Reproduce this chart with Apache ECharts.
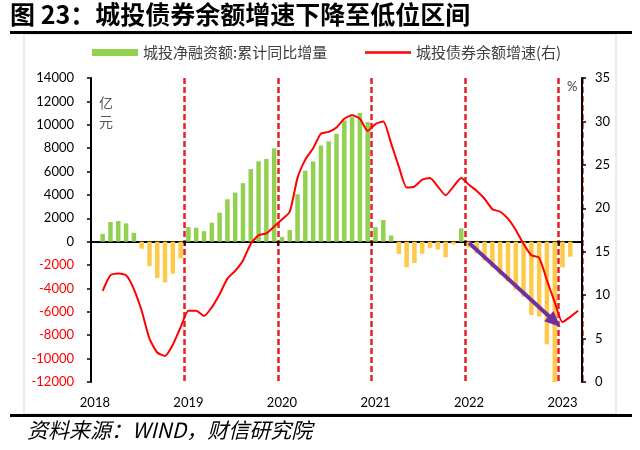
<!DOCTYPE html>
<html>
<head>
<meta charset="utf-8">
<script src="https://cdn.jsdelivr.net/npm/echarts@6/dist/echarts.min.js"></script>
<style>html,body{margin:0;padding:0;background:#fff;}#c{width:640px;height:450px;}</style>
</head>
<body>
<div id="c"></div>
<script>
// ---- data ----
var years = ['2018', '2019', '2020', '2021', '2022', '2023'];
var monthsLastYear = 3; // data runs through Mar 2023
// 城投净融资额:累计同比增量 (亿元), monthly Jan 2018 - Mar 2023
var netFin2018 = [null, 670, 1680, 1765, 1565, 760, -590, -2100, -3120, -3490, -2740, -1450];
var netFin2019 = [1250, 1190, 900, 1620, 2480, 3630, 4200, 5010, 6210, 6870, 7080, 7990];
var netFin2020 = [410, 990, 4060, 6070, 6870, 8220, 8590, 9230, 10370, 10660, 11000, 10230];
var netFin2021 = [1250, 1850, 530, -1050, -2200, -1820, -1020, -530, -670, -1330, -240, 1140];
var netFin2022 = [-500, -1000, -1600, -2200, -2800, -3400, -4100, -4700, -6280, -6400, -8780, -12000];
var netFin2023 = [-2200, -1290, null];
// 城投债券余额增速 (%), right axis
var growth2018 = [null, 10.5, 12.3, 12.5, 12.3, 10.7, 8.2, 5.0, 3.4, 3.0, 4.3, 6.3];
var growth2019 = [8.2, 8.2, 7.6, 8.6, 10.1, 11.9, 12.8, 14.0, 15.9, 16.9, 17.1, 17.9];
var growth2020 = [18.7, 19.6, 23.5, 25.6, 26.9, 28.6, 28.8, 29.3, 30.3, 30.7, 30.3, 28.9];
var growth2021 = [29.7, 30.0, 27.5, 24.8, 22.4, 22.5, 23.3, 23.5, 22.5, 21.5, 22.5, 23.5];
var growth2022 = [22.7, 22.0, 21.1, 19.9, 19.6, 18.8, 17.5, 15.9, 14.6, 14.3, 11.7, 9.2];
var growth2023 = [6.9, 7.5, 8.2];
var leftTicks = {min: -12000, max: 14000, interval: 2000};
var rightTicks = {min: 0, max: 35, interval: 5};
var arrowFrom = ['2022-01', -100];
var arrowTo = ['2022-12', -6830];

// ---- build ----
var categories = [];
years.forEach(function (y, yi) {
  var n = (yi === years.length - 1) ? monthsLastYear : 12;
  for (var m = 1; m <= n; m++) categories.push(y + '-' + (m < 10 ? '0' + m : m));
});
var netFin = [].concat(netFin2018, netFin2019, netFin2020, netFin2021, netFin2022, netFin2023);
var growth = [].concat(growth2018, growth2019, growth2020, growth2021, growth2022, growth2023);

var yearStart = function (index) { return index % 12 === 0; };
var yearSplit = function (index) { return index > 0 && index % 12 === 0; };

var chart = echarts.init(document.getElementById('c'), null, {renderer: 'canvas'});
var numFont = 'Lato, "Open Sans", sans-serif';
var cjk = '"Noto Sans CJK SC", sans-serif';
var legendText = {fontFamily: cjk, fontSize: 15, color: '#404040'};

chart.setOption({
  animation: false,
  backgroundColor: '#fff',
  grid: {left: 91, right: 58, top: 78, bottom: 68, containLabel: false},
  legend: [{
    left: 92, top: 45, padding: 0,
    itemWidth: 46, itemHeight: 7,
    textStyle: legendText,
    data: [{name: '城投净融资额:累计同比增量', icon: 'rect', itemStyle: {color: '#92D050'}}]
  }, {
    left: 365, top: 45, padding: 0,
    itemWidth: 46, itemHeight: 2.5,
    textStyle: legendText,
    data: [{name: '城投债券余额增速(右)', icon: 'rect', itemStyle: {color: '#FF0000'}}]
  }],
  xAxis: [{
    type: 'category', data: categories, boundaryGap: true,
    axisLine: {show: false}, axisTick: {show: false},
    axisLabel: {interval: yearStart, formatter: function (v) { return v.slice(0, 4); },
      fontFamily: numFont, fontSize: 13, color: '#000', margin: 14},
    splitLine: {show: true, interval: yearSplit,
      lineStyle: {color: '#E6212A', width: 2.5, type: [6, 3]}}
  }, {
    type: 'category', data: categories, boundaryGap: true, position: 'bottom',
    axisLine: {show: true, onZero: true, onZeroAxisIndex: 0, lineStyle: {color: '#000', width: 2}},
    axisTick: {show: true, interval: yearSplit, length: 4, lineStyle: {color: '#000', width: 1.5}},
    axisLabel: {show: false}, splitLine: {show: false}
  }],
  yAxis: [{
    type: 'value', min: leftTicks.min, max: leftTicks.max, interval: leftTicks.interval,
    axisLine: {show: true, lineStyle: {color: '#000', width: 2}},
    axisTick: {show: true, length: 4, lineStyle: {color: '#000', width: 1.5}},
    axisLabel: {fontFamily: numFont, fontSize: 13, margin: 17,
      formatter: function (v) { return String(v); },
      color: function (v) { return Number(v) < 0 ? '#FF0000' : '#000'; }},
    splitLine: {show: false}
  }, {
    type: 'value', min: rightTicks.min, max: rightTicks.max, interval: rightTicks.interval,
    position: 'right',
    axisLine: {show: true, lineStyle: {color: '#000', width: 2}},
    axisTick: {show: true, length: 4, lineStyle: {color: '#000', width: 1.5}},
    axisLabel: {fontFamily: numFont, fontSize: 13, color: '#000', margin: 13},
    splitLine: {show: false}
  }],
  series: [{
    name: '城投净融资额:累计同比增量', type: 'bar', xAxisIndex: 0, yAxisIndex: 0,
    data: netFin, barWidth: 4.5,
    itemStyle: {color: function (p) { return p.value >= 0 ? '#92D050' : '#FFC94A'; }},
    markLine: {
      silent: true, symbol: ['none', 'triangle'], symbolSize: [14, 16],
      label: {show: false},
      lineStyle: {color: '#7030A0', width: 4, type: 'solid'},
      data: [[{coord: arrowFrom}, {coord: arrowTo}]]
    },
    z: 2
  }, {
    name: '城投债券余额增速(右)', type: 'line', xAxisIndex: 0, yAxisIndex: 1,
    data: growth, showSymbol: false, symbol: 'none', smooth: 0.2,
    lineStyle: {color: '#FF0000', width: 2}, itemStyle: {color: '#FF0000'},
    z: 4
  }],
  graphic: [
    {type: 'rect', shape: {x: 24, y: 34, width: 592, height: 380}, style: {fill: 'none', stroke: '#D9D9D9', lineWidth: 1}, z: -1},
    {type: 'rect', shape: {x: 10, y: 31, width: 622, height: 3}, style: {fill: '#000'}},
    {type: 'rect', shape: {x: 10, y: 414, width: 622, height: 3}, style: {fill: '#000'}},
    {type: 'text', left: 10, top: 2, style: {text: '图 23：城投债券余额增速下降至低位区间', fontFamily: cjk, fontSize: 25, fontWeight: 'bold', fill: '#000'}},
    {type: 'text', left: 27, top: 420, style: {text: '资料来源：WIND，财信研究院', fontFamily: cjk, fontSize: 21, fontStyle: 'italic', fill: '#000'}},
    {type: 'text', left: 99, top: 93, style: {text: '亿\n元', fontFamily: cjk, fontSize: 14, lineHeight: 19, fill: '#595959'}},
    {type: 'text', left: 567, top: 80, style: {text: '%', fontFamily: numFont, fontSize: 13, fill: '#404040'}}
  ]
});
</script>
</body>
</html>
